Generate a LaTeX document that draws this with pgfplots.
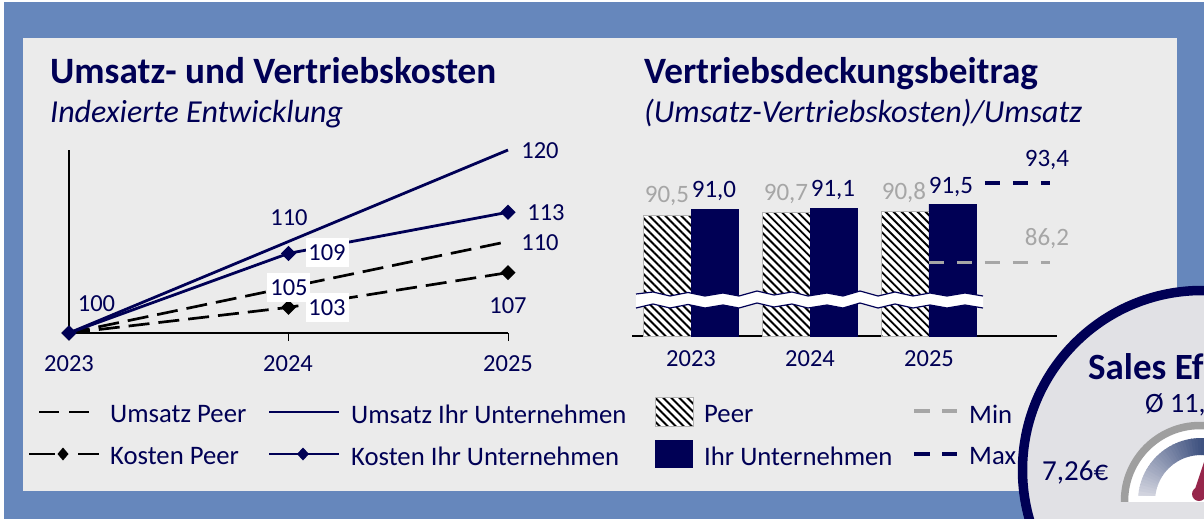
\documentclass[border=0pt]{standalone}
\usepackage{pgfplots}
\pgfplotsset{compat=1.18}
\usepackage{fontspec}
\setmainfont{Carlito}
\usetikzlibrary{patterns.meta}
\definecolor{navy}{HTML}{000055}
\definecolor{blueback}{HTML}{6687BC}
\definecolor{panel}{HTML}{EBEBEB}
\definecolor{disc}{HTML}{E1E1E5}
\definecolor{lgrey}{HTML}{A6A6A6}
\definecolor{crim}{HTML}{96264B}
\definecolor{gA}{HTML}{DADBE4}
\definecolor{gB}{HTML}{3F5280}
\begin{document}
\begin{tikzpicture}
\begin{scope}[x=1pt,y=-1pt]
\clip (0,0) rectangle (1204,519);
\path[use as bounding box] (0,0) rectangle (1204,519);
\fill[white] (0,0) rectangle (1204,519);
\fill[blueback] (4,2) rectangle (1204,519);
\fill[panel] (23,38) rectangle (1177,491);
\end{scope}
% Line chart
\begin{axis}[at={(69pt,-333pt)},anchor=south west,scale only axis,width=439pt,height=183pt,
  xmin=2023,xmax=2025,ymin=100,ymax=120,clip=false,
  axis lines=left,axis line style={-,black,line width=1.5pt},
  xtick={2024,2025},xticklabel=\empty,ytick=\empty,
  major tick length=8pt,tick style={black,line width=1pt},
  tick align=outside]
\addplot[black,line width=2.7pt,dash pattern=on 21pt off 9pt] coordinates {(2023,100)(2024,105)(2025,110)};
\addplot[black,line width=2.7pt,dash pattern=on 21pt off 9pt,mark=square*,mark size=4pt,mark options={rotate=45,solid}] coordinates {(2023,100)(2024,102.8)(2025,106.6)};
\addplot[navy,line width=2.8pt] coordinates {(2023,100)(2024,110)(2025,120)};
\addplot[navy,line width=2.8pt,mark=square*,mark size=4pt,mark options={rotate=45}] coordinates {(2023,100)(2024,108.7)(2025,113.2)};
\end{axis}
% Bar chart
\begin{axis}[at={(632pt,-336pt)},anchor=south west,scale only axis,width=425pt,height=165pt,
  xmin=-0.496,xmax=3.076,ymin=79.5,ymax=94.5,clip=false,
  axis x line=bottom,axis y line=none,axis line style={-,black,line width=1.5pt},
  xtick=\empty,ytick=\empty]
\addplot[ybar,bar width=47.5pt,bar shift=-23.75pt,draw=gray!60,line width=0.8pt,
  preaction={fill=white},
  postaction={pattern={Lines[angle=-45,distance=5.66pt,line width=1.9pt]},pattern color=black}]
  coordinates {(0,90.5)(1,90.7)(2,90.8)};
\addplot[ybar,bar width=47.5pt,bar shift=23.75pt,draw=navy,fill=navy] coordinates {(0,91.0)(1,91.1)(2,91.5)};
\addplot[lgrey,line width=3.5pt,dash pattern=on 15pt off 13pt] coordinates {(2,86.2)(3.02,86.2)};
\addplot[navy,line width=3.5pt,dash pattern=on 15pt off 13pt] coordinates {(2,93.4)(3.02,93.4)};
\end{axis}
\begin{scope}[x=1pt,y=-1pt]
\clip (0,0) rectangle (1204,519);
\tikzset{lab/.style={text=navy,font=\fontsize{24.5}{26}\selectfont,inner sep=0pt},
 blab/.style={text=navy,font=\fontsize{25}{26}\selectfont,inner sep=0pt},
 glab/.style={text=lgrey,font=\fontsize{25}{26}\selectfont,inner sep=0pt},
 leg/.style={text=navy,font=\fontsize{26.7}{28}\selectfont,inner sep=0pt,anchor=west}}
% Titles
\node[anchor=base west,text=navy,inner sep=0pt,font=\fontsize{37.2}{40}\selectfont\bfseries] at (50,83) {Umsatz- und Vertriebskosten};
\node[anchor=base west,text=navy,inner sep=0pt,font=\fontsize{32}{34}\selectfont\itshape] at (50,122) {Indexierte Entwicklung};
\node[anchor=base west,text=navy,inner sep=0pt,font=\fontsize{37.2}{40}\selectfont\bfseries] at (644,83) {Vertriebsdeckungsbeitrag};
\node[anchor=base west,text=navy,inner sep=0pt,font=\fontsize{32}{34}\selectfont\itshape] at (644,122) {(Umsatz-Vertriebskosten)/Umsatz};
% Line labels
\foreach \x/\t in {69/2023,288/2024,508/2025} \node[lab] at (\x,364) {\t};
\node[lab] at (96.5,304) {100};
\node[lab] at (289,218) {110};
\node[lab] at (540,151) {120};
\node[lab] at (546,213) {113};
\node[lab] at (540,243) {110};
\node[lab] at (508,306) {107};
\fill[white] (306,238) rectangle (349,267);
\node[lab] at (327,253) {109};
\fill[white] (267,273) rectangle (310,302);
\node[lab] at (289,288) {105};
\fill[white] (306,293) rectangle (349,322);
\node[lab] at (327,308) {103};
% Bar labels
\foreach \x/\t in {691/2023,810/2024,929/2025} \node[lab] at (\x,359) {\t};
\node[glab] at (667,196) {90,5};
\node[blab] at (714,191) {91,0};
\node[glab] at (786,194) {90,7};
\node[blab] at (833,190) {91,1};
\node[glab] at (904,193) {90,8};
\node[blab,fill=panel] at (951,187) {91,5};
\node[blab] at (1047,160) {93,4};
\node[glab] at (1047,239) {86,2};
% Axis break
\fill[white] (636,294)--(653,292)--(670,296)--(688,292.5)--(705,296)--(723,293)--(739,296)--(757,291)--(774,295)--(792,292)--(808,296)--(827,293)--(843,296)--(860,291)--(878,296)--(895,292)--(913,296)--(930,293)--(947,296)--(965,293)--(983,296)
 --(983,308)--(965,305)--(947,308)--(930,305)--(913,308)--(895,304)--(878,308)--(860,303)--(843,308)--(827,305)--(808,308)--(792,304)--(774,307)--(757,303)--(739,308)--(723,305)--(705,308)--(688,304.5)--(670,308)--(653,304)--(636,308)--cycle;
\draw[navy,line width=1.2pt] (636,294)--(653,292)--(670,296)--(688,292.5)--(705,296)--(723,293)--(739,296)--(757,291)--(774,295)--(792,292)--(808,296)--(827,293)--(843,296)--(860,291)--(878,296)--(895,292)--(913,296)--(930,293)--(947,296)--(965,293)--(983,296);
\draw[navy,line width=1.2pt] (636,308)--(653,304)--(670,308)--(688,304.5)--(705,308)--(723,305)--(739,308)--(757,303)--(774,307)--(792,304)--(808,308)--(827,305)--(843,308)--(860,303)--(878,308)--(895,304)--(913,308)--(930,305)--(947,308)--(965,305)--(983,308);
% Legends
\draw[black,line width=2.7pt] (39,412)--(59,412) (69,412)--(89,412);
\node[leg] at (110,414) {Umsatz Peer};
\draw[navy,line width=2.7pt] (269,412)--(339,412);
\node[leg] at (351,414) {Umsatz Ihr Unternehmen};
\draw[black,line width=2.7pt] (29,454)--(55,454) (78,454)--(99,454);
\fill[black] (63,447.5)--(68.5,454)--(63,460.5)--(57.5,454)--cycle;
\node[leg] at (110,456) {Kosten Peer};
\draw[navy,line width=2.7pt] (269,454)--(339,454);
\fill[navy] (303,447.5)--(309,454)--(303,460.5)--(297,454)--cycle;
\node[leg] at (351,456) {Kosten Ihr Unternehmen};
\fill[white] (655,397) rectangle (693,426);
\path[pattern={Lines[angle=-45,distance=5.66pt,line width=1.9pt]},pattern color=black] (655,397) rectangle (693,426);
\draw[gray!60,line width=0.8pt] (655,397) rectangle (693,426);
\node[leg] at (704,414) {Peer};
\fill[navy] (655,440) rectangle (693,468);
\node[leg] at (704,456) {Ihr Unternehmen};
\draw[lgrey,line width=3.5pt] (914,411)--(930,411) (942,411)--(957,411);
\node[leg] at (969,414) {Min};
\draw[navy,line width=3.5pt] (914,454)--(930,454) (942,454)--(957,454);
\node[leg] at (969,456) {Max};
% Disc
\fill[disc] (1202,470) circle (180);
\draw[navy,line width=9.5pt] (1202,470) circle (179.5);
\node[anchor=west,text=navy,inner sep=0pt,font=\fontsize{37}{40}\selectfont\bfseries] at (1088,367) {Sales Ef};
\node[anchor=west,text=navy,inner sep=0pt,font=\fontsize{28}{30}\selectfont] at (1145,405) {Ø 11,};
\node[anchor=west,text=navy,inner sep=0pt,font=\fontsize{29}{30}\selectfont] at (1042,473) {7,26€};
% Gauge
\begin{scope}
\clip (1100,410) rectangle (1204,501);
\fill[white] (1200,501) circle (75);
\draw[gray!75,line width=7.5pt] (1200,501) circle (75.5);
\begin{scope}
\clip (1100,410) rectangle (1204,495);
\foreach \a in {180,177,...,81}{
  \pgfmathsetmacro\b{\a-3.6}
  \pgfmathtruncatemacro\c{min(100,(180-\a)*100/88)}
  \fill[gB!\c!gA] ({1201+63*cos(\a)},{501-63*sin(\a)}) arc[start angle=-\a,end angle=-\b,radius=63] -- ({1201+46*cos(\b)},{501-46*sin(\b)}) arc[start angle=-\b,end angle=-\a,radius=46] -- cycle;
}
\end{scope}
\fill[crim] (1199,494) circle (7);
\fill[crim] (1195,489)--(1204,462)--(1210,462)--(1210,495)--cycle;
\end{scope}
\end{scope}
\end{tikzpicture}
\end{document}
